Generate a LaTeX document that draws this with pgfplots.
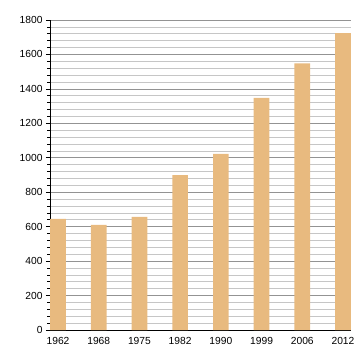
\documentclass[border=0pt]{standalone}
\usepackage{pgfplots}
\pgfplotsset{compat=1.18}
\usepackage{fontspec}
\setmainfont{Liberation Sans}
\definecolor{barc}{RGB}{232,186,127}
\begin{document}
\begin{tikzpicture}[x=1bp,y=1bp]
\path[use as bounding box] (0,0) rectangle (360,360);
\begin{axis}[
  at={(50bp,30bp)}, anchor=south west,
  scale only axis, width=301bp, height=310bp,
  xmin=-0.197, xmax=7.197, ymin=0, ymax=1800,
  axis x line*=bottom, axis y line*=left,
  axis line style={black, line width=0.8pt, -},
  xtick=data, xticklabels={1962,1968,1975,1982,1990,1999,2006,2012},
  xtick style={draw=none},
  ytick={0,200,...,1800}, minor y tick num=4,
  ymajorgrids, yminorgrids,
  major grid style={gray!85, line width=0.6pt},
  minor grid style={gray!45, line width=0.6pt},
  tick align=outside,
  major tick length=4bp, minor tick length=2.5bp,
  ytick style={black, line width=0.6pt},
  tick label style={font=\fontsize{10.3}{11}\selectfont},
  /pgf/number format/assume math mode=true,
  /pgf/number format/1000 sep={},
  ybar, bar width=0.385, bar shift=0pt,
]
\addplot[fill=barc, draw=none] coordinates {
(0,645) (1,610) (2,657) (3,899) (4,1023) (5,1348) (6,1548) (7,1724)};
\end{axis}
\end{tikzpicture}
\end{document}
